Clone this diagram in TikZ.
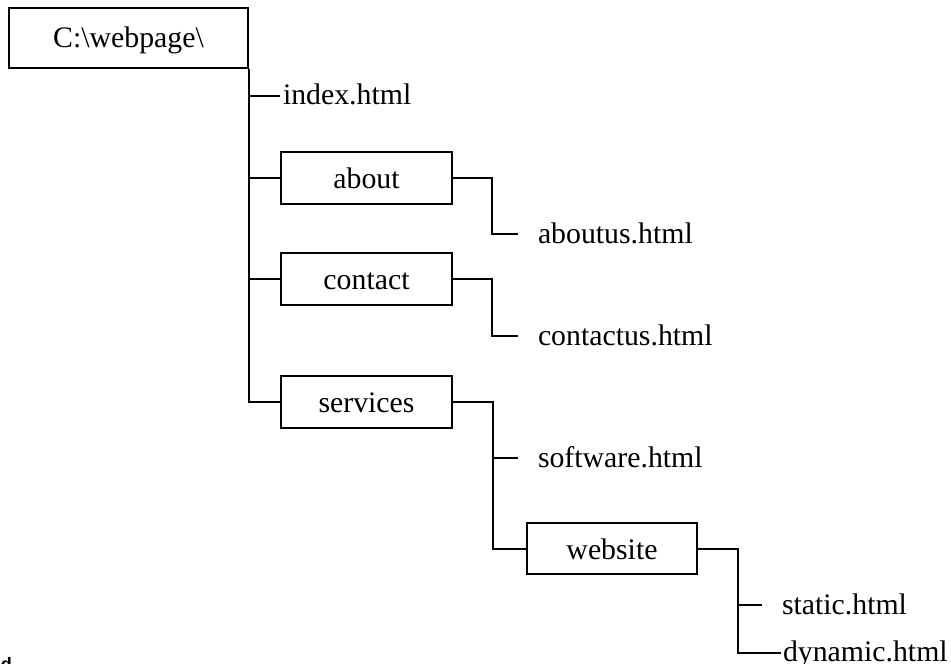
\documentclass[tikz,border=0pt]{standalone}
\usepackage{fontspec}
\setmainfont{Liberation Serif}
\newfontfamily\fragfont{Liberation Sans}
\begin{document}
\begin{tikzpicture}[x=0.75pt,y=-0.75pt,
  line width=1.5pt,
  every node/.style={font=\fontsize{22.35}{26}\selectfont},
  dirbox/.style={draw, line width=1.5pt, rectangle, inner sep=0pt,
    minimum width=128.25pt, minimum height=39pt, text height=18pt, text depth=2.25pt},
  leaf/.style={anchor=west, inner ysep=0pt, inner xsep=0pt, text height=14pt, text depth=0pt},
  leafgap/.style={leaf, inner xsep=14.25pt}
]
\useasboundingbox (0,0) rectangle (951,664);
\clip (0,0) rectangle (951,664);

% folders
\node[dirbox, minimum width=179.25pt, minimum height=45pt, text height=17pt, text depth=3.5pt] (root) at (128.5,38) {C:\textbackslash webpage\textbackslash};
\node[dirbox] (about) at (366.5,177.5) {about};
\node[dirbox] (contact) at (366.5,279) {contact};
\node[dirbox] (services) at (366.5,402) {services};
\node[dirbox, minimum width=127.5pt, minimum height=38.25pt, text height=19pt, text depth=2pt] (website) at (612,548.5) {website};

% files
\node[leaf, inner xsep=1.5pt] (index) at (280,95.5) {index.html};
\node[leafgap] (aboutus) at (518,234) {aboutus.html};
\node[leafgap] (contactus) at (518,336) {contactus.html};
\node[leafgap] (software) at (518,458) {software.html};
\node[leafgap] (static) at (762,605) {static.html};
\node[leaf, inner xsep=0.75pt] (dynamic) at (781,652.5) {dynamic.html};

% trunk
\draw (root.south east) -- (root.south east |- services.west) -- (services.west);
\draw (root.south east |- index.west) -- (index.west);
\draw (root.south east |- about.west) -- (about.west);
\draw (root.south east |- contact.west) -- (contact.west);

% sub-branches
\draw (about.east) -- ++(39,0) |- (aboutus.west);
\draw (contact.east) -- ++(39,0) |- (contactus.west);
\draw (services.east) -- ++(40,0) coordinate (sv) |- (website.west);
\draw (sv |- software.west) -- (software.west);
\draw (website.east) -- ++(40,0) coordinate (wb) |- (dynamic.west);
\draw (wb |- static.west) -- (static.west);

% cut-off fragment at the bottom edge
\node[anchor=base west, inner sep=0pt, font=\fragfont\bfseries\fontsize{13.5}{14}\selectfont] (frag) at (0,670) {d};
\end{tikzpicture}
\end{document}
